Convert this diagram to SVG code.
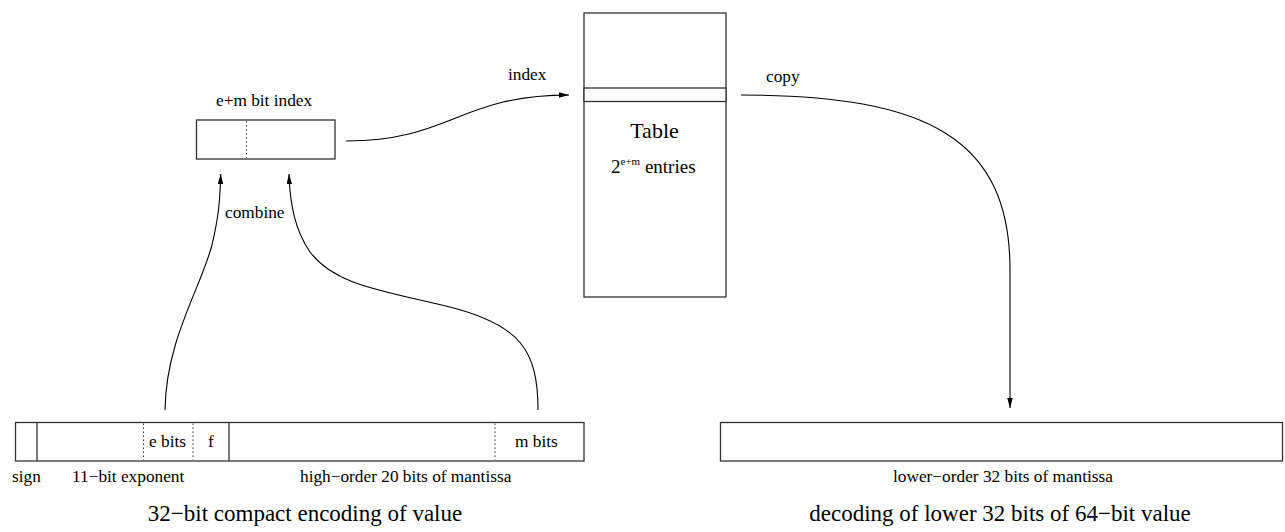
<svg xmlns="http://www.w3.org/2000/svg" width="1285" height="532" viewBox="0 0 1285 532" font-family="'Liberation Serif', 'DejaVu Serif', serif">
<style>
  text { font-family: 'Liberation Serif', 'DejaVu Serif', serif; fill: #000; }
  .lbl { font-size: 17.3px; }
  .big { font-size: 23px; }
  .box { fill: #fff; stroke: #333; stroke-width: 1.3; }
  .div { stroke: #333; stroke-width: 1.3; fill: none; }
  .dot { stroke: #333; stroke-width: 1; stroke-dasharray: 1.5 2.5; fill: none; }
  .conn { fill: none; stroke: #000; stroke-width: 1.1; }
</style>
<defs>
  <marker id="arr" markerUnits="userSpaceOnUse" markerWidth="11" markerHeight="6" refX="10" refY="2.75" orient="auto">
    <path d="M0,0 L10,2.75 L0,5.5 z" fill="#000"/>
  </marker>
</defs>

<g id="index-box">
  <text class="lbl" x="216" y="106">e+m bit index</text>
  <rect class="box" x="196.5" y="120" width="138.5" height="39"/>
  <line class="dot" x1="246.5" y1="121" x2="246.5" y2="158"/>
</g>

<g id="table">
  <rect class="box" x="584" y="13" width="142" height="284"/>
  <rect class="box" x="584" y="88" width="142" height="13.5"/>
  <text x="654.5" y="138" font-size="22" text-anchor="middle">Table</text>
  <text x="611" y="173" font-size="19">2<tspan font-size="11" dy="-8">e+m</tspan><tspan dy="8"> entries</tspan></text>
</g>

<g id="compact-encoding">
  <rect class="box" x="15.5" y="422.5" width="568.5" height="38.5"/>
  <line class="div" x1="37" y1="422.5" x2="37" y2="461"/>
  <line class="dot" x1="143.5" y1="423.5" x2="143.5" y2="460"/>
  <line class="dot" x1="193" y1="423.5" x2="193" y2="460"/>
  <line class="div" x1="229" y1="422.5" x2="229" y2="461"/>
  <line class="dot" x1="495" y1="423.5" x2="495" y2="460"/>
  <text class="lbl" x="149" y="447">e bits</text>
  <text class="lbl" x="208" y="447">f</text>
  <text class="lbl" x="515" y="447">m bits</text>
  <text class="lbl" x="12" y="482">sign</text>
  <text class="lbl" x="72" y="482">11−bit exponent</text>
  <text class="lbl" x="300" y="482">high−order 20 bits of mantissa</text>
  <text class="big" x="305" y="521" text-anchor="middle">32−bit compact encoding of value</text>
</g>

<g id="lower-decoding">
  <rect class="box" x="720.5" y="422.5" width="562" height="38.5"/>
  <text class="lbl" x="1003" y="482" text-anchor="middle">lower−order 32 bits of mantissa</text>
  <text class="big" x="1000" y="521" text-anchor="middle">decoding of lower 32 bits of 64−bit value</text>
</g>

<g id="connectors">
  <path class="conn" d="M165,410 C166,340 200,290 212,245 C219,215 220,200 220.7,174" marker-end="url(#arr)"/>
  <path class="conn" d="M538,410 C538,350 520,325 450,307 C380,290 335,285 310,252 C295,230 290,205 289,174" marker-end="url(#arr)"/>
  <text class="lbl" x="225" y="218">combine</text>
  <path class="conn" d="M346,141 C450,141 460,95 569,95" marker-end="url(#arr)"/>
  <text class="lbl" x="508" y="80">index</text>
  <path class="conn" d="M741,95 C930,95 1010,140 1010,270 L1010,408" marker-end="url(#arr)"/>
  <text class="lbl" x="766" y="82">copy</text>
</g>
</svg>
